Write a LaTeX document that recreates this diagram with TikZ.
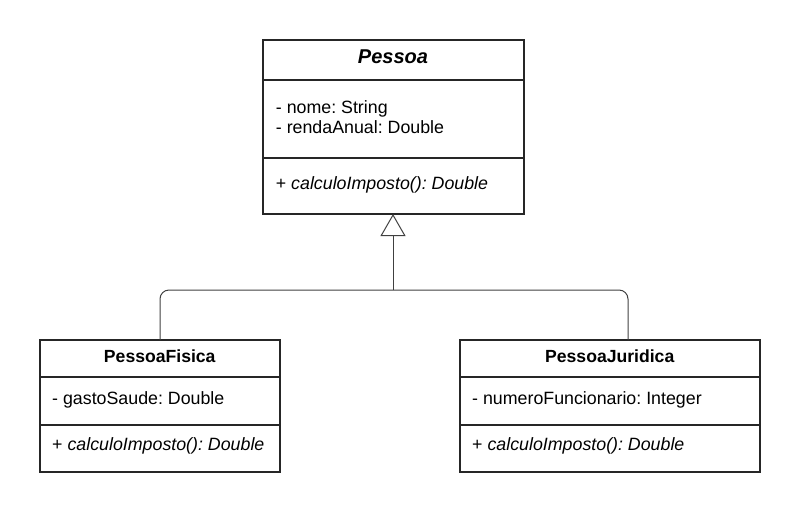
\documentclass[tikz,border=0pt]{standalone}
\usepackage{fontspec}
\setmainfont{Liberation Sans}
\usetikzlibrary{arrows.meta}
\frenchspacing
\begin{document}
\begin{tikzpicture}[x=1pt,y=-1pt,
  classbox/.style={draw=black!85, line width=2pt, inner sep=0pt, outer sep=0pt, anchor=north west},
  divider/.style={draw=black!85, line width=2pt},
  txt/.style={inner sep=0pt, anchor=base west, font=\fontsize{17.8}{20}\selectfont},
  ttl/.style={inner sep=0pt, anchor=base, font=\fontsize{17.6}{20}\selectfont\bfseries},
  conn/.style={draw=black!75, line width=1pt}]
\useasboundingbox (0,0) rectangle (800,512);
% Pessoa
\node[classbox, minimum width=261pt, minimum height=174pt] (pessoa) at (262.5,40) {};
\draw[divider] (262.5,80) -- (523.5,80);
\draw[divider] (262.5,157.7) -- (523.5,157.7);
\node[ttl, font=\fontsize{20}{22}\selectfont\bfseries\itshape] (pt) at (393,63.5) {Pessoa};
\node[txt] (pa1) at (275.7,113.3) {- nome: String};
\node[txt] (pa2) at (275.7,133.3) {- rendaAnual: Double};
\node[txt] (pm1) at (275.7,189) {+ \textit{calculoImposto(): Double}};
% PessoaFisica
\node[classbox, minimum width=240.5pt, minimum height=131.7pt] (fisica) at (39.5,340) {};
\draw[divider] (39.5,376.7) -- (280,376.7);
\draw[divider] (39.5,425) -- (280,425);
\node[ttl] (ft) at (159.75,362.3) {PessoaFisica};
\node[txt] (fa1) at (52,404) {- gastoSaude: Double};
\node[txt] (fm1) at (52,450.7) {+ \textit{calculoImposto(): Double}};
% PessoaJuridica
\node[classbox, minimum width=300.5pt, minimum height=131.7pt] (juridica) at (459.5,340) {};
\draw[divider] (459.5,376.7) -- (760,376.7);
\draw[divider] (459.5,425) -- (760,425);
\node[ttl] (jt) at (609.75,362.3) {PessoaJuridica};
\node[txt] (ja1) at (472,404) {- numeroFuncionario: Integer};
\node[txt] (jm1) at (472,450.7) {+ \textit{calculoImposto(): Double}};
% connectors
\coordinate (junc) at (393,290);
\draw[conn, -{Triangle[open, length=22pt, width=25pt, line width=1pt]}] (junc) -- (pessoa.south);
\draw[conn, rounded corners=9pt] (160,340) |- (junc) -| (628,340);
\end{tikzpicture}
\end{document}
